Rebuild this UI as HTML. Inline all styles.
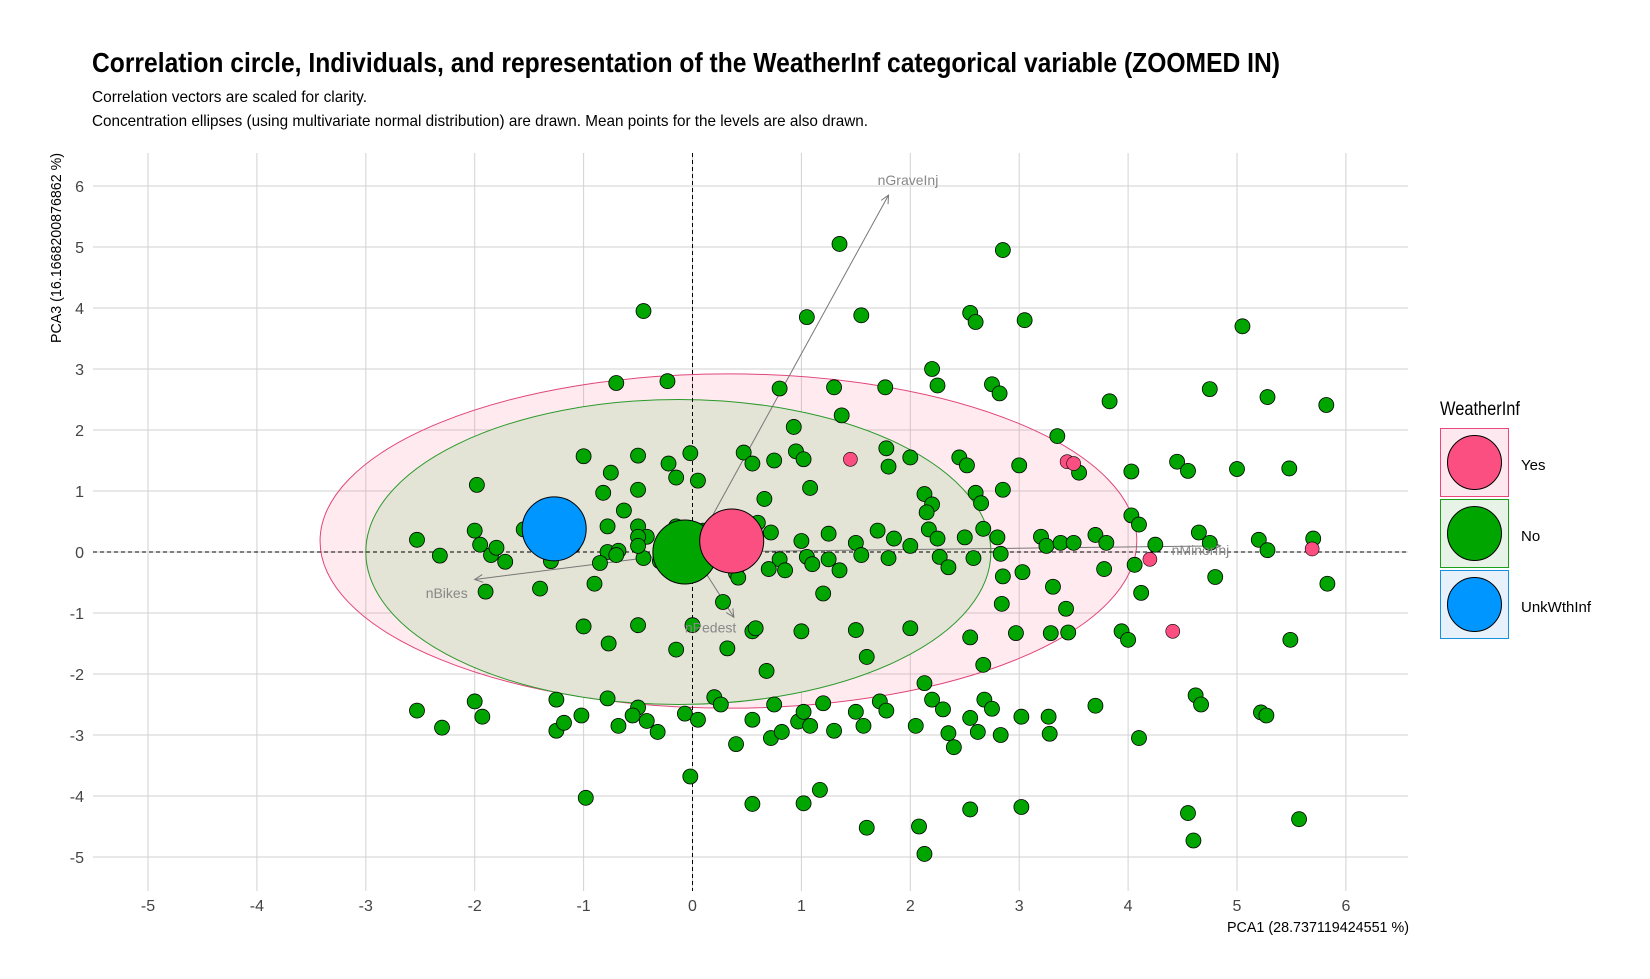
<!DOCTYPE html>
<html><head><meta charset="utf-8"><style>
html,body{margin:0;padding:0;background:#fff}
svg{display:block;font-family:"Liberation Sans",sans-serif}
</style></head><body>
<svg id="chart" width="1650" height="979" viewBox="0 0 1650 979" xmlns="http://www.w3.org/2000/svg">
<text x="92" y="72" font-size="28" font-weight="bold" textLength="1188" lengthAdjust="spacingAndGlyphs">Correlation circle, Individuals, and representation of the WeatherInf categorical variable (ZOOMED IN)</text>
<text x="92" y="102" font-size="16" textLength="275" lengthAdjust="spacingAndGlyphs">Correlation vectors are scaled for clarity.</text>
<text x="92" y="126" font-size="16" textLength="776" lengthAdjust="spacingAndGlyphs">Concentration ellipses (using multivariate normal distribution) are drawn. Mean points for the levels are also drawn.</text>
<g id="grid"></g><g id="ell"></g><g id="axes0"></g><g id="arrows"></g><g id="pts"></g><g id="means"></g><g id="ticks"></g>
<text x="1409" y="932" font-size="15" text-anchor="end" textLength="182" lengthAdjust="spacingAndGlyphs">PCA1 (28.737119424551 %)</text>
<text transform="translate(61,153) rotate(-90)" font-size="15" text-anchor="end" textLength="190" lengthAdjust="spacingAndGlyphs">PCA3 (16.1668200876862 %)</text>
<g>
<text x="1440" y="415" font-size="19" textLength="80" lengthAdjust="spacingAndGlyphs">WeatherInf</text>
<rect x="1440.5" y="428.5" width="68" height="68" fill="#fde8ef" stroke="#e8477a"/>
<circle cx="1474.5" cy="462.5" r="27" fill="#fb4f82" stroke="#000"/>
<text x="1521" y="470" font-size="15">Yes</text>
<rect x="1440.5" y="499.5" width="68" height="68" fill="#e6f3e6" stroke="#18a018"/>
<circle cx="1474.5" cy="533.5" r="27" fill="#00a500" stroke="#000"/>
<text x="1521" y="541" font-size="15">No</text>
<rect x="1440.5" y="570.5" width="68" height="68" fill="#e6f1fb" stroke="#1a90e0"/>
<circle cx="1474.5" cy="604.5" r="27" fill="#0096ff" stroke="#000"/>
<text x="1521" y="612" font-size="15">UnkWthInf</text>
</g>
</svg>
<script>
const ticksX=[-5,-4,-3,-2,-1,0,1,2,3,4,5,6];
const ticksY=[-5,-4,-3,-2,-1,0,1,2,3,4,5,6];
const noX=[1.35,2.85,-0.45,1.05,1.55,2.55,2.6,3.05,5.05,2.2,-0.7,-0.23,0.8,1.3,1.77,2.25,2.75,2.82,4.75,5.28,5.82,3.83,1.37,0.93,3.35,0.47,0.75,0.95,1.02,1.78,2.0,2.45,2.52,3.0,4.45,4.55,5.0,5.48,4.03,3.55,-1.0,-0.5,-0.22,-0.15,-0.02,0.05,0.55,-0.75,-1.98,-0.82,-0.5,1.08,1.8,2.13,2.2,2.6,2.65,2.85,0.66,2.15,-0.63,-0.78,-0.5,-0.42,-0.15,0.1,0.6,0.72,1.25,1.7,1.85,2.17,2.25,2.5,2.67,2.8,3.2,3.25,3.38,3.5,3.7,3.8,4.03,4.1,4.25,4.65,4.75,5.2,5.28,5.7,-2.53,-2.32,-2.0,-1.95,-1.85,-1.8,-1.72,-1.55,-1.3,-1.1,-0.78,-0.85,-0.68,-0.5,-0.45,-0.3,-0.5,-0.7,0.4,0.42,0.8,0.85,0.7,1.0,1.05,1.1,1.25,1.35,1.5,1.55,1.8,2.0,2.27,2.35,2.58,2.83,-1.9,-1.4,-0.9,0.28,-1.0,-0.77,-0.5,-0.15,0.0,0.32,0.55,0.58,1.0,1.2,1.5,1.6,2.0,2.55,2.67,2.85,3.03,3.31,2.84,3.43,2.97,3.29,3.45,3.78,4.06,4.12,4.8,5.83,3.94,4.0,5.49,-2.53,-2.3,-2.0,-1.93,-1.25,-1.25,-1.18,-1.02,-0.78,-0.68,-0.5,-0.55,-0.42,-0.32,-0.07,0.05,0.2,0.26,0.4,0.55,0.68,0.72,0.75,0.82,0.97,1.02,1.08,1.2,1.3,1.5,1.57,1.72,1.78,2.05,2.13,2.2,2.3,2.35,2.4,2.55,2.62,2.68,2.75,2.83,3.02,3.27,3.28,3.7,4.1,4.62,4.67,5.22,5.27,-0.98,-0.02,0.55,1.02,1.17,1.6,2.08,2.13,2.55,3.02,4.55,4.6,5.57];
const noY=[5.05,4.95,3.95,3.85,3.88,3.92,3.77,3.8,3.7,3.0,2.77,2.8,2.68,2.7,2.7,2.73,2.75,2.6,2.67,2.54,2.41,2.47,2.24,2.05,1.9,1.63,1.5,1.65,1.52,1.7,1.55,1.55,1.42,1.42,1.48,1.33,1.36,1.37,1.32,1.3,1.57,1.58,1.45,1.22,1.62,1.17,1.45,1.3,1.1,0.97,1.02,1.05,1.4,0.95,0.78,0.97,0.8,1.02,0.87,0.65,0.68,0.42,0.42,0.25,0.42,0.35,0.48,0.32,0.3,0.35,0.22,0.37,0.22,0.24,0.38,0.24,0.25,0.1,0.15,0.15,0.28,0.15,0.6,0.45,0.12,0.32,0.15,0.2,0.03,0.22,0.2,-0.06,0.35,0.12,-0.05,0.07,-0.16,0.37,-0.15,0.1,0.0,-0.18,0.02,0.25,-0.1,-0.15,0.1,-0.05,-0.35,-0.42,-0.12,-0.3,-0.28,0.18,-0.08,-0.2,-0.12,-0.3,0.15,-0.05,-0.1,0.1,-0.08,-0.25,-0.1,-0.03,-0.65,-0.6,-0.52,-0.82,-1.22,-1.5,-1.2,-1.6,-1.2,-1.58,-1.3,-1.25,-1.3,-0.68,-1.28,-1.72,-1.25,-1.4,-1.85,-0.4,-0.33,-0.57,-0.85,-0.93,-1.33,-1.33,-1.32,-0.28,-0.21,-0.67,-0.41,-0.52,-1.3,-1.44,-1.44,-2.6,-2.88,-2.45,-2.7,-2.42,-2.93,-2.8,-2.68,-2.4,-2.85,-2.55,-2.68,-2.77,-2.95,-2.65,-2.75,-2.38,-2.5,-3.15,-2.75,-1.95,-3.05,-2.5,-2.95,-2.78,-2.62,-2.85,-2.48,-2.93,-2.62,-2.85,-2.45,-2.6,-2.85,-2.15,-2.42,-2.58,-2.97,-3.2,-2.72,-2.95,-2.42,-2.57,-3.0,-2.7,-2.7,-2.98,-2.52,-3.05,-2.35,-2.5,-2.63,-2.68,-4.03,-3.68,-4.13,-4.12,-3.9,-4.52,-4.5,-4.95,-4.22,-4.18,-4.28,-4.73,-4.38];
const yesX=[1.45,3.44,3.5,4.2,4.41,5.69];
const yesY=[1.52,1.48,1.45,-0.12,-1.3,0.05];
const meanCats=["UnkWthInf","No","Yes"];
const meanX=[-1.27,-0.07,0.36];
const meanY=[0.38,0.0,0.18];
const ellCats=["Yes","No"];
const ellCX=[0.33,-0.13];
const ellCY=[0.18,0.0];
const ellA=[3.75,2.87];
const ellB=[2.74,2.5];
const varNames=["nGraveInj","nBikes","nPedest","nMinorInj"];
const varX=[1.8,-2.0,0.38,4.85];
const varY=[5.85,-0.45,-1.07,0.1];

const X0=692.5,UX=108.9,Y0=552,UY=61.0;
const sx=v=>X0+v*UX, sy=v=>Y0-v*UY;
const L=93,R=1408,T=153,B=891;
const NS="http://www.w3.org/2000/svg";
function mk(tag,attrs,parent){const e=document.createElementNS(NS,tag);for(const k in attrs)e.setAttribute(k,attrs[k]);parent.appendChild(e);return e;}
const grid=document.getElementById('grid'),ticks=document.getElementById('ticks');
ticksX.forEach(v=>{
  const g=mk('line',{x1:sx(v),x2:sx(v),y1:T,y2:B,stroke:'#d2d2d2','stroke-width':1},grid);
  
  
});
ticksY.forEach(v=>{
  const h=mk('line',{x1:L,x2:R,y1:sy(v),y2:sy(v),stroke:'#d2d2d2','stroke-width':1},grid);
  
  
});
ticksX.forEach(v=>{const t=mk('text',{x:sx(v),y:911,'font-size':16,'text-anchor':'middle',fill:'#444'},ticks);t.textContent=v;
  
  });
ticksY.forEach(v=>{const t=mk('text',{x:84,y:sy(v)+6,'font-size':16,'text-anchor':'end',fill:'#444'},ticks);t.textContent=v;
  
  });
const ell=document.getElementById('ell');
const ellStyle={Yes:['rgba(251,79,130,0.12)','#e0457a'],No:['#e3e3d6','#2a9a2a']};
ellCats.forEach((c,i)=>{const e=mk('ellipse',{cx:sx(ellCX[i]),cy:sy(ellCY[i]),rx:ellA[i]*UX,ry:ellB[i]*UY,fill:ellStyle[c][0],stroke:ellStyle[c][1],'stroke-width':1},ell);
  
  });
const ax=document.getElementById('axes0');
const vl=mk('line',{x1:sx(0),x2:sx(0),y1:T,y2:B,stroke:'#000','stroke-dasharray':'4,3'},ax);


const hl=mk('line',{x1:L,x2:R,y1:sy(0),y2:sy(0),stroke:'#000','stroke-dasharray':'4,3'},ax);


const arr=document.getElementById('arrows');
const labOff={nGraveInj:[-0.1,0.17,'start'],nBikes:[-0.45,-0.3,'start'],nPedest:[-0.45,-0.25,'start'],nMinorInj:[-0.45,-0.15,'start']};
varNames.forEach((n,i)=>{
  const x2=sx(varX[i]),y2=sy(varY[i]),x1=sx(0),y1=sy(0);
  const a=mk('line',{x1,y1,x2,y2,stroke:'#777','stroke-width':1},arr);
  
  
  const ang=Math.atan2(y2-y1,x2-x1),hl2=9;
  const p=mk('polyline',{points:`${x2-hl2*Math.cos(ang-0.45)},${y2-hl2*Math.sin(ang-0.45)} ${x2},${y2} ${x2-hl2*Math.cos(ang+0.45)},${y2-hl2*Math.sin(ang+0.45)}`,fill:'none',stroke:'#777'},arr);
  
  
});
const pts=document.getElementById('pts');
noX.forEach((x,i)=>{const c=mk('circle',{cx:sx(x),cy:sy(noY[i]),r:7.5,fill:'#00a500',stroke:'#000','stroke-width':0.8},pts);
  
  });
yesX.forEach((x,i)=>{const c=mk('circle',{cx:sx(x),cy:sy(yesY[i]),r:7,fill:'#fb4f82',stroke:'#000','stroke-width':0.6},pts);
  
  });
varNames.forEach((n,i)=>{const o=labOff[n];const t=mk('text',{x:sx(varX[i]+o[0]),y:sy(varY[i]+o[1]),'font-size':14,fill:'#888','text-anchor':o[2]},arr.parentNode);t.textContent=n;
  
  });
const means=document.getElementById('means');
const mcol={UnkWthInf:'#0096ff',No:'#00a500',Yes:'#fb4f82'};
meanCats.forEach((c,i)=>{const m=mk('circle',{cx:sx(meanX[i]),cy:sy(meanY[i]),r:32,fill:mcol[c],stroke:'#000','stroke-width':1},means);
  
  });
</script>
</body></html>
